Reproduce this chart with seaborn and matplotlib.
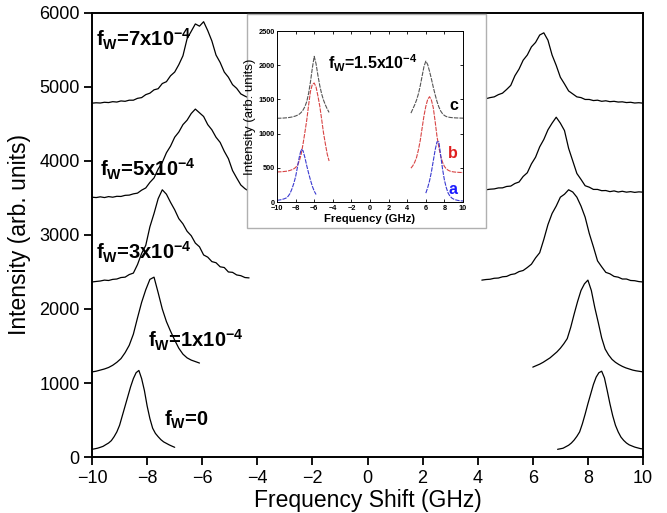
import numpy as np
import pandas as pd
import matplotlib
matplotlib.use('Agg')
import matplotlib.pyplot as plt
from matplotlib.patches import Rectangle
import seaborn as sns

# ---- main spectra, y values on an even grid between (start, stop) ----
f0_left_range = (-10.0, -7.0)
f0_left = [105, 112, 120, 132, 145, 168, 190, 222, 275, 340, 430, 560, 690, 820, 950, 1060,
           1140, 1170, 1060, 900, 690, 520, 390, 320, 275, 235, 205, 185, 165, 148, 132]
f0_right_range = (6.9, 10.0)
f0_right = [105, 112, 120, 140, 160, 190, 230, 280, 340, 450, 580, 720, 850, 980, 1080, 1140,
            1160, 1070, 900, 720, 560, 430, 340, 270, 225, 190, 165, 150, 135, 125, 115, 110]

f1_left_range = (-10.0, -6.1)
f1_left = [1150, 1160, 1175, 1190, 1210, 1240, 1280, 1330, 1410, 1510, 1660, 1880, 2090, 2260,
           2400, 2430, 2220, 2000, 1830, 1700, 1580, 1470, 1390, 1340, 1310, 1290, 1270]
f1_right_range = (6.0, 10.0)
f1_right = [1215, 1235, 1255, 1280, 1310, 1340, 1380, 1420, 1470, 1530, 1600, 1750, 1930, 2100,
            2250, 2340, 2390, 2250, 2020, 1820, 1610, 1460, 1380, 1320, 1280, 1250, 1225, 1205,
            1190, 1175, 1165, 1158, 1150]

f3_left_range = (-10.0, -4.3)
f3_left = [2365, 2372, 2378, 2390, 2385, 2400, 2405, 2425, 2430, 2465, 2485, 2600, 2750, 2860,
           3110, 3290, 3490, 3610, 3550, 3440, 3340, 3220, 3150, 3050, 2990, 2890, 2840, 2730,
           2700, 2640, 2625, 2570, 2560, 2500, 2495, 2460, 2450, 2425, 2420]
f3_right_range = (4.15, 10.0)
f3_right = [2390, 2398, 2402, 2415, 2418, 2435, 2440, 2465, 2475, 2505, 2520, 2560, 2605, 2690,
            2760, 2940, 3140, 3290, 3390, 3510, 3550, 3610, 3580, 3510, 3390, 3240, 3020, 2840,
            2650, 2570, 2495, 2475, 2440, 2430, 2405, 2405, 2385, 2382, 2370, 2365]

f5_left_range = (-10.0, -4.3)
f5_left = [3510, 3505, 3515, 3505, 3518, 3510, 3522, 3520, 3535, 3538, 3555, 3565, 3605, 3635,
           3710, 3770, 3890, 3980, 4110, 4200, 4320, 4390, 4490, 4550, 4640, 4700, 4650, 4600,
           4490, 4420, 4320, 4250, 4130, 4030, 3870, 3770, 3675, 3625, 3590]
f5_right_range = (4.3, 10.0)
f5_right = [3610, 3618, 3622, 3635, 3636, 3655, 3660, 3695, 3715, 3790, 3840, 3960, 4050, 4190,
            4290, 4420, 4510, 4590, 4510, 4410, 4170, 4000, 3830, 3750, 3665, 3645, 3615, 3615,
            3598, 3600, 3585, 3595, 3580, 3590, 3578, 3585, 3575, 3582, 3578]

f7_left_range = (-10.0, -4.3)
f7_left = [4780, 4785, 4782, 4792, 4788, 4800, 4795, 4810, 4805, 4820, 4820, 4845, 4855, 4895,
           4915, 4960, 4975, 5045, 5070, 5150, 5200, 5300, 5420, 5650, 5750, 5850, 5820, 5880,
           5760, 5620, 5430, 5330, 5200, 5130, 5030, 4980, 4905, 4875, 4850]
f7_right_range = (4.3, 10.0)
f7_right = [4840, 4855, 4865, 4895, 4915, 4965, 5020, 5150, 5240, 5360, 5430, 5540, 5600, 5700,
            5730, 5630, 5430, 5290, 5130, 5040, 4945, 4905, 4865, 4855, 4830, 4830, 4815, 4820,
            4805, 4812, 4800, 4805, 4795, 4798, 4788, 4792, 4782, 4786, 4780]

labels = ['f$_{\\rm W}$=7x10$^{-4}$', 'f$_{\\rm W}$=5x10$^{-4}$', 'f$_{\\rm W}$=3x10$^{-4}$',
          'f$_{\\rm W}$=1x10$^{-4}$', 'f$_{\\rm W}$=0']
label_x = [-9.85, -9.7, -9.85, -7.97, -7.39]
label_y = [5640, 3880, 2770, 1580, 500]

# ---- inset spectra (fw = 1.5e-4) ----
c_left_range = (-10.0, -4.4)
c_left = [1225, 1225, 1226, 1227, 1229, 1231, 1234, 1238, 1243, 1250, 1258, 1270, 1285, 1310,
          1345, 1395, 1470, 1590, 1760, 1960, 2130, 2020, 1850, 1700, 1580, 1490, 1420, 1360, 1310]
c_right_range = (4.4, 10.0)
c_right = [1300, 1360, 1420, 1490, 1580, 1700, 1840, 1980, 2060, 2010, 1910, 1800, 1680, 1570,
           1470, 1390, 1330, 1290, 1265, 1250, 1242, 1237, 1234, 1232, 1230, 1229, 1228, 1227, 1226]
b_left_range = (-10.0, -4.4)
b_left = [440, 441, 442, 444, 447, 450, 455, 462, 472, 485, 505, 540, 600, 700, 850, 1020, 1200,
          1420, 1620, 1720, 1740, 1680, 1550, 1400, 1210, 1010, 850, 700, 600]
b_right_range = (4.4, 10.0)
b_right = [495, 530, 580, 650, 760, 900, 1080, 1260, 1400, 1500, 1540, 1490, 1380, 1180, 960,
           800, 670, 580, 520, 485, 465, 452, 445, 440, 437, 435, 433, 432, 430]
a_left_range = (-10.0, -5.8)
a_left = [25, 28, 33, 40, 48, 60, 85, 125, 190, 270, 370, 510, 660, 770, 750, 650, 530, 420,
          320, 230, 160, 110]
a_right_range = (6.0, 10.0)
a_right = [130, 210, 310, 440, 600, 760, 880, 880, 680, 480, 320, 210, 130, 85, 58, 42, 32, 25,
           20, 17, 15]


def segment(rng, vals, name):
    x = np.linspace(rng[0], rng[1], len(vals))
    return pd.DataFrame({'x': x, 'y': vals, 'seg': name})


sns.set_style('ticks', {'axes.edgecolor': 'black', 'text.color': 'black',
                        'axes.labelcolor': 'black', 'xtick.color': 'black',
                        'ytick.color': 'black'})
plt.rcParams['font.family'] = ['Liberation Sans', 'DejaVu Sans']
plt.rcParams['mathtext.fontset'] = 'custom'
plt.rcParams['mathtext.rm'] = 'Liberation Sans:bold'
plt.rcParams['mathtext.it'] = 'Liberation Sans:bold'
plt.rcParams['mathtext.bf'] = 'Liberation Sans:bold'
plt.rcParams['mathtext.default'] = 'rm'

fig = plt.figure(figsize=(6.67, 5.13), dpi=100)
ax = fig.add_axes([0.138, 0.109, 0.826, 0.866])

main = pd.concat([
    segment(f0_left_range, f0_left, 'f0l'), segment(f0_right_range, f0_right, 'f0r'),
    segment(f1_left_range, f1_left, 'f1l'), segment(f1_right_range, f1_right, 'f1r'),
    segment(f3_left_range, f3_left, 'f3l'), segment(f3_right_range, f3_right, 'f3r'),
    segment(f5_left_range, f5_left, 'f5l'), segment(f5_right_range, f5_right, 'f5r'),
    segment(f7_left_range, f7_left, 'f7l'), segment(f7_right_range, f7_right, 'f7r'),
])
sns.lineplot(data=main, x='x', y='y', units='seg', estimator=None, color='black',
             linewidth=0.9, sort=False, ax=ax)

ax.set_xlim(-10, 10)
ax.set_ylim(0, 6000)
ax.set_xticks(range(-10, 11, 2))
ax.set_yticks(range(0, 6001, 1000))
ax.set_xlabel('Frequency Shift (GHz)', fontsize=16.5, labelpad=2)
ax.set_ylabel('Intensity (arb. units)', fontsize=16.5, labelpad=6)
ax.tick_params(axis='both', direction='out', length=6, width=1.3, labelsize=13, pad=3)
for s in ax.spines.values():
    s.set_linewidth(1.4)
    s.set_visible(True)

for t, x, y in zip(labels, label_x, label_y):
    ax.text(x, y, t, fontsize=14.5, fontweight='bold', ha='left', va='center')

# white frame behind the inset, hides the main curves
fig.patches.append(Rectangle((0.3703, 0.5556), 0.3583, 0.4172, transform=fig.transFigure,
                             facecolor='white', edgecolor='#b0b0b0', linewidth=1.0, zorder=1))

ins = fig.add_axes([0.4153, 0.6062, 0.2789, 0.3333], zorder=2)
inset_sets = [
    (c_left_range, c_left, c_right_range, c_right, '#555555'),
    (b_left_range, b_left, b_right_range, b_right, '#d84545'),
    (a_left_range, a_left, a_right_range, a_right, '#3a3ad0'),
]
for lr, lv, rr, rv, col in inset_sets:
    d = pd.concat([segment(lr, lv, 'l'), segment(rr, rv, 'r')])
    sns.lineplot(data=d, x='x', y='y', units='seg', estimator=None, color=col,
                 linewidth=0.8, linestyle=(0, (4, 1)), sort=False, ax=ins)

ins.set_xlim(-10, 10)
ins.set_ylim(0, 2500)
ins.set_xticks(range(-10, 11, 2))
ins.set_yticks(range(0, 2501, 500))
ins.tick_params(axis='both', direction='in', length=2.5, width=0.6, labelsize=5.3,
                top=True, right=True)
ins.tick_params(axis='x', pad=2.5)
ins.tick_params(axis='y', pad=1.5)
for lab in ins.get_xticklabels() + ins.get_yticklabels():
    lab.set_fontweight('bold')
for s in ins.spines.values():
    s.set_linewidth(0.7)
ins.set_xlabel('Frequency (GHz)', fontsize=8.2, fontweight='bold', labelpad=1)
ins.set_ylabel('Intensity (arb. units)', fontsize=9.5, labelpad=2)
ins.text(-4.5, 2030, 'f$_{\\rm W}$=1.5x10$^{-4}$', fontsize=11.5, fontweight='bold',
         ha='left', va='center')
ins.text(8.5, 1418, 'c', fontsize=11.5, fontweight='bold', color='black', ha='left', va='center')
ins.text(8.4, 716, 'b', fontsize=11.5, fontweight='bold', color='#e02020', ha='left', va='center')
ins.text(8.4, 190, 'a', fontsize=11.5, fontweight='bold', color='#1a1aff', ha='left', va='center')

fig.savefig('out.png', dpi=100)
